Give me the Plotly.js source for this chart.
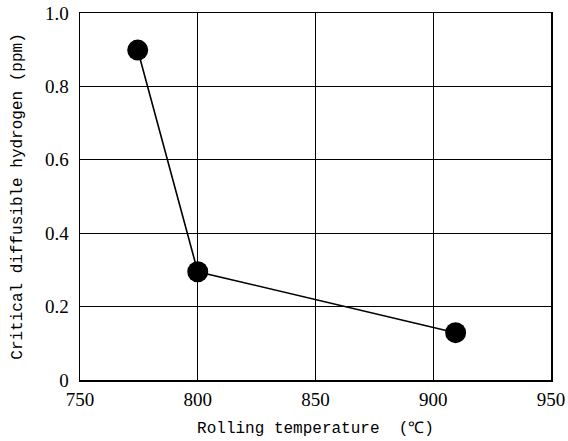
<!DOCTYPE html>
<html>
<head>
<meta charset="utf-8">
<script src="https://cdn.plot.ly/plotly-3.0.1.min.js"></script>
<style>html,body{margin:0;padding:0;background:#fff}</style>
</head>
<body>
<div id="chart" style="width:568px;height:441px"></div>
<script>
var temperature = [774.5, 800, 909.5];
var hydrogen = [0.899, 0.295, 0.129];
var xTickVals = [750, 800, 850, 900, 950];
var xTickText = ['750', '800', '850', '900', '950'];
var yTickVals = [0, 0.2, 0.4, 0.6, 0.8, 1.0];
var yTickText = ['0', '0.2', '0.4', '0.6', '0.8', '1.0'];

var tickFont = {family: 'Liberation Serif', size: 19, color: '#000'};
var titleFont = {family: 'Liberation Mono', size: 16, color: '#000'};

Plotly.newPlot('chart', [{
  x: temperature, y: hydrogen,
  type: 'scatter', mode: 'lines+markers',
  line: {color: '#000', width: 1.6},
  marker: {color: '#000', size: 21},
  showlegend: false
}], {
  width: 568, height: 441,
  margin: {l: 80, r: 17, t: 13, b: 61},
  paper_bgcolor: '#fff', plot_bgcolor: '#fff',
  font: {family: 'Liberation Serif', color: '#000'},
  xaxis: {
    range: [750, 950], tickvals: xTickVals, ticktext: xTickText,
    showgrid: true, gridcolor: '#000', gridwidth: 1,
    showline: true, linecolor: '#000', linewidth: 1.5, mirror: true,
    zeroline: false, ticks: '', tickfont: tickFont, ticklabelstandoff: 2,
    title: {text: 'Rolling temperature  (℃)', font: titleFont, standoff: 12}
  },
  yaxis: {
    range: [0, 1.0], tickvals: yTickVals, ticktext: yTickText,
    showgrid: true, gridcolor: '#000', gridwidth: 1,
    showline: true, linecolor: '#000', linewidth: 1.5, mirror: true,
    zeroline: false, ticks: '', tickfont: tickFont, ticklabelstandoff: 6,
    title: {text: 'Critical diffusible hydrogen (ppm)', font: titleFont, standoff: 18}
  }
}, {displayModeBar: false, staticPlot: true});
</script>
</body>
</html>
